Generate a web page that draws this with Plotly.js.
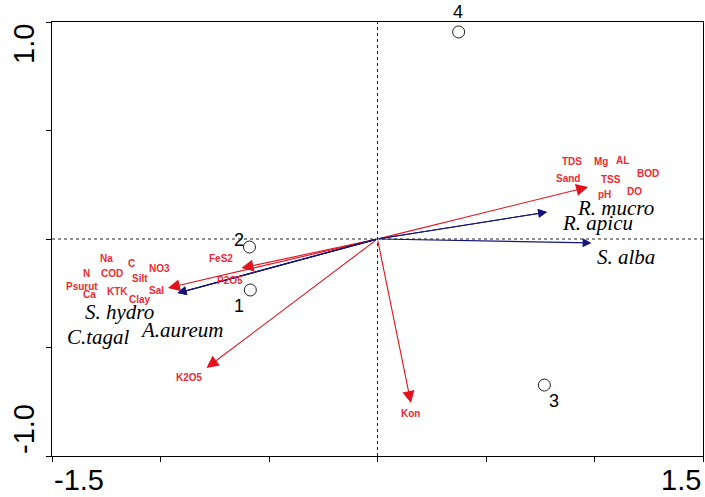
<!DOCTYPE html>
<html>
<head>
<meta charset="utf-8">
<script src="https://cdn.plot.ly/plotly-3.0.1.min.js"></script>
<style>html,body{margin:0;padding:0;background:#fff;}#chart{width:705px;height:497px;}</style>
</head>
<body>
<div id="chart"></div>
<script>
// Sites (open circles)
const siteLabels = ["1", "2", "3", "4"];
const siteX = [-0.586, -0.590, 0.769, 0.374];
const siteY = [-0.235, -0.037, -0.673, 0.954];
const siteLabelX = [-0.636, -0.638, 0.815, 0.370];
const siteLabelY = [-0.309, -0.005, -0.746, 1.0];

// Environmental arrows (red) - tips
const envArrowX = [0.971, -0.627, -0.966, -0.788, 0.154];
const envArrowY = [0.240, -0.134, -0.226, -0.594, -0.756];

// Environmental variable labels (red)
const envLabels = ["TDS", "Mg", "AL", "BOD", "Sand", "TSS", "pH", "DO",
  "Na", "C", "NO3", "N", "COD", "Silt", "Psurut", "Sal", "Ca", "KTK", "Clay",
  "FeS2", "P2O5", "K2O5", "Kon"];
const envLabelX = [0.898, 1.031, 1.128, 1.247, 0.880, 1.077, 1.045, 1.183,
  -1.247, -1.132, -1.004, -1.339, -1.224, -1.095, -1.362, -1.017, -1.325, -1.196, -1.095,
  -0.719, -0.682, -0.866, 0.154];
const envLabelY = [0.359, 0.359, 0.364, 0.304, 0.281, 0.272, 0.207, 0.217,
  -0.092, -0.115, -0.134, -0.157, -0.157, -0.184, -0.221, -0.235, -0.258, -0.244, -0.281,
  -0.088, -0.189, -0.636, -0.802];

// Species arrows (blue)
const speciesLabels = ["R. mucro", "R. apicu", "S. alba", "S. hydro", "C.tagal", "A.aureum"];
const speciesArrowX = [0.781, 0.781, 0.986, -0.921, -0.921, -0.921];
const speciesArrowY = [0.124, 0.124, -0.018, -0.249, -0.249, -0.249];
const speciesLabelX = [1.096, 1.013, 1.146, -1.187, -1.284, -0.903];
const speciesLabelY = [0.143, 0.074, -0.083, -0.336, -0.452, -0.419];

// Axis tick labels
const xTickVals = [-1.5, 1.5];
const xTickText = ["-1.5", "1.5"];
const yTickVals = [1.0, -1.0];
const yTickText = ["1.0", "-1.0"];

const RED = "#e3121f";
const RED_TXT = "#ee2a35";
const BLUE = "#14147a";

const annotations = [];

envArrowX.forEach((x, i) => {
  annotations.push({x: x, y: envArrowY[i], ax: 0, ay: 0, xref: "x", yref: "y", axref: "x", ayref: "y",
    text: "", showarrow: true, arrowhead: 2, arrowsize: 2.2, arrowwidth: 1.1, arrowcolor: RED, standoff: 0});
});
speciesArrowX.forEach((x, i) => {
  annotations.push({x: x, y: speciesArrowY[i], ax: 0, ay: 0, xref: "x", yref: "y", axref: "x", ayref: "y",
    text: "", showarrow: true, arrowhead: 2, arrowsize: 1.6, arrowwidth: 1.1, arrowcolor: BLUE, standoff: 0});
});
envLabels.forEach((t, i) => {
  annotations.push({x: envLabelX[i], y: envLabelY[i], xref: "x", yref: "y", text: "<b>" + t + "</b>",
    showarrow: false, font: {family: "Liberation Sans, Arial", size: 10, color: RED_TXT}});
});
speciesLabels.forEach((t, i) => {
  annotations.push({x: speciesLabelX[i], y: speciesLabelY[i], xref: "x", yref: "y", text: "<i>" + t + "</i>",
    showarrow: false, font: {family: "Liberation Serif, Times New Roman", size: 21, color: "#000"}});
});
siteLabels.forEach((t, i) => {
  const a = {x: siteLabelX[i], y: siteLabelY[i], xref: "x", yref: "y", text: t,
    showarrow: false, font: {family: "Liberation Sans, Arial", size: 18, color: "#000"}};
  if (siteLabelY[i] >= 1) { a.yanchor = "bottom"; a.yshift = -2; }
  annotations.push(a);
});
// x tick labels
annotations.push({x: xTickVals[0], y: 0, xref: "x", yref: "paper", yanchor: "top", xanchor: "left", yshift: -6,
  text: xTickText[0], showarrow: false, font: {family: "Liberation Sans, Arial", size: 29, color: "#000"}});
annotations.push({x: xTickVals[1], y: 0, xref: "x", yref: "paper", yanchor: "top", xanchor: "right", yshift: -6,
  text: xTickText[1], showarrow: false, font: {family: "Liberation Sans, Arial", size: 29, color: "#000"}});
// y tick labels (rotated)
annotations.push({x: 0, y: yTickVals[0], xref: "paper", yref: "y", xanchor: "right", yanchor: "top", xshift: -10,
  text: yTickText[0], textangle: -90, showarrow: false, font: {family: "Liberation Sans, Arial", size: 29, color: "#000"}});
annotations.push({x: 0, y: yTickVals[1], xref: "paper", yref: "y", xanchor: "right", yanchor: "bottom", xshift: -10,
  text: yTickText[1], textangle: -90, showarrow: false, font: {family: "Liberation Sans, Arial", size: 29, color: "#000"}});

const traces = [{
  x: siteX, y: siteY, mode: "markers", type: "scatter",
  marker: {symbol: "circle-open", size: 12, color: "#222", line: {width: 1}},
  hoverinfo: "skip", cliponaxis: false
}];

const layout = {
  width: 705, height: 497,
  margin: {l: 52, r: 2, t: 22, b: 41},
  paper_bgcolor: "#fff", plot_bgcolor: "#fff",
  showlegend: false,
  xaxis: {range: [-1.5, 1.5], showgrid: false, zeroline: false, showline: true, mirror: true,
    linecolor: "#000", linewidth: 1, ticks: "outside", ticklen: 5, tickcolor: "#000",
    tickvals: [-1.5, -1, -0.5, 0, 0.5, 1, 1.5], showticklabels: false},
  yaxis: {range: [-1, 1], showgrid: false, zeroline: false, showline: true, mirror: true,
    linecolor: "#000", linewidth: 1, ticks: "outside", ticklen: 5, tickcolor: "#000",
    tickvals: [-1, -0.5, 0, 0.5, 1], showticklabels: false},
  shapes: [
    {type: "line", xref: "x", yref: "y", x0: 0, x1: 0, y0: -1, y1: 1, line: {color: "#222", width: 1, dash: "3px,3px"}, layer: "below"},
    {type: "line", xref: "x", yref: "y", x0: -1.5, x1: 1.5, y0: 0, y1: 0, line: {color: "#222", width: 1, dash: "3px,3px"}, layer: "below"}
  ],
  annotations: annotations
};

Plotly.newPlot("chart", traces, layout, {displayModeBar: false, staticPlot: true});
</script>
</body>
</html>
